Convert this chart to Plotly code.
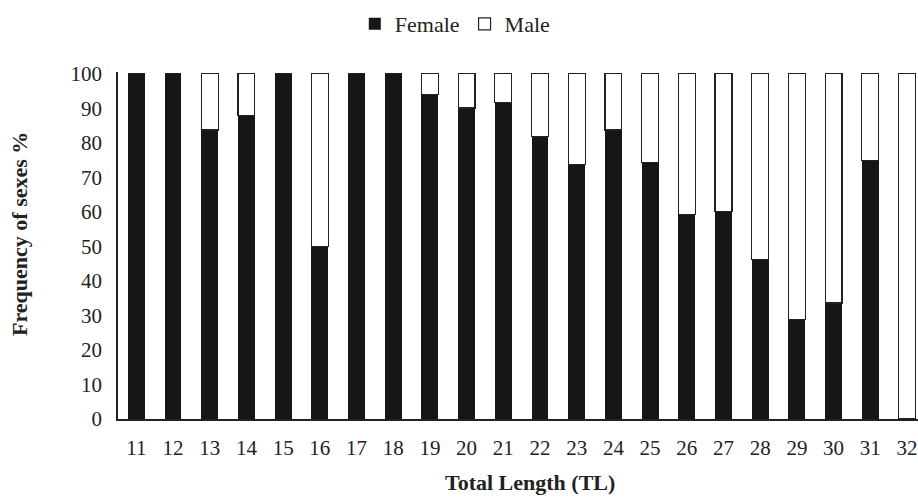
import plotly.graph_objects as go

lengths = list(range(11, 33))
female = [100, 100, 83.7, 88.0, 100, 50.0, 100, 100, 93.9, 90.1, 91.7,
          81.9, 73.8, 83.7, 74.4, 59.2, 60.2, 46.1, 28.8, 33.6, 74.9, 0]
male = [100 - f for f in female]

FONT = "Liberation Serif"

fig = go.Figure()
fig.add_trace(go.Bar(x=lengths, y=female, name="Female", width=0.46,
                     marker=dict(color="#161616", line=dict(width=0))))
fig.add_trace(go.Bar(x=lengths, y=male, name="Male", width=0.46,
                     marker=dict(color="white", line=dict(color="#222222", width=1.2))))

fig.update_layout(
    barmode="stack",
    width=918, height=499,
    margin=dict(l=118, r=0, t=72, b=80),
    paper_bgcolor="white", plot_bgcolor="white",
    font=dict(family=FONT, size=21, color="#222222"),
    showlegend=True,
    legend=dict(orientation="h", x=0.296, xanchor="left",
                y=1 + (72 - 24) / 347, yanchor="middle",
                font=dict(family=FONT, size=22, color="#222222"),
                itemwidth=30, traceorder="normal"),
    xaxis=dict(range=[10.5, 32.3], tickmode="array", tickvals=lengths,
               ticktext=[str(v) for v in lengths], showgrid=False, zeroline=False,
               showline=True, linecolor="#222222", linewidth=2, ticks="",
               ticklabelstandoff=9, tickfont=dict(family=FONT, size=21)),
    yaxis=dict(range=[0, 100.5], tickmode="array", tickvals=list(range(0, 101, 10)),
               showgrid=False, zeroline=False, showline=True, linecolor="#222222",
               linewidth=1.5, ticks="", ticklabelstandoff=10,
               tickfont=dict(family=FONT, size=21)),
    annotations=[
        dict(text="<b>Frequency of sexes %</b>", xref="paper", yref="paper",
             x=(19 - 118) / 800, xanchor="center", y=(419 - 234) / 347, yanchor="middle",
             textangle=-90, showarrow=False, font=dict(family=FONT, size=22, color="#222222")),
        dict(text="<b>Total Length (TL)</b>", xref="paper", yref="paper",
             x=(530 - 118) / 800, xanchor="center", y=-(483 - 419) / 347, yanchor="middle",
             showarrow=False, font=dict(family=FONT, size=22, color="#222222")),
    ],
)

fig.write_html("out.html", config={"displayModeBar": False},
               post_script="document.body.style.margin='0';")
